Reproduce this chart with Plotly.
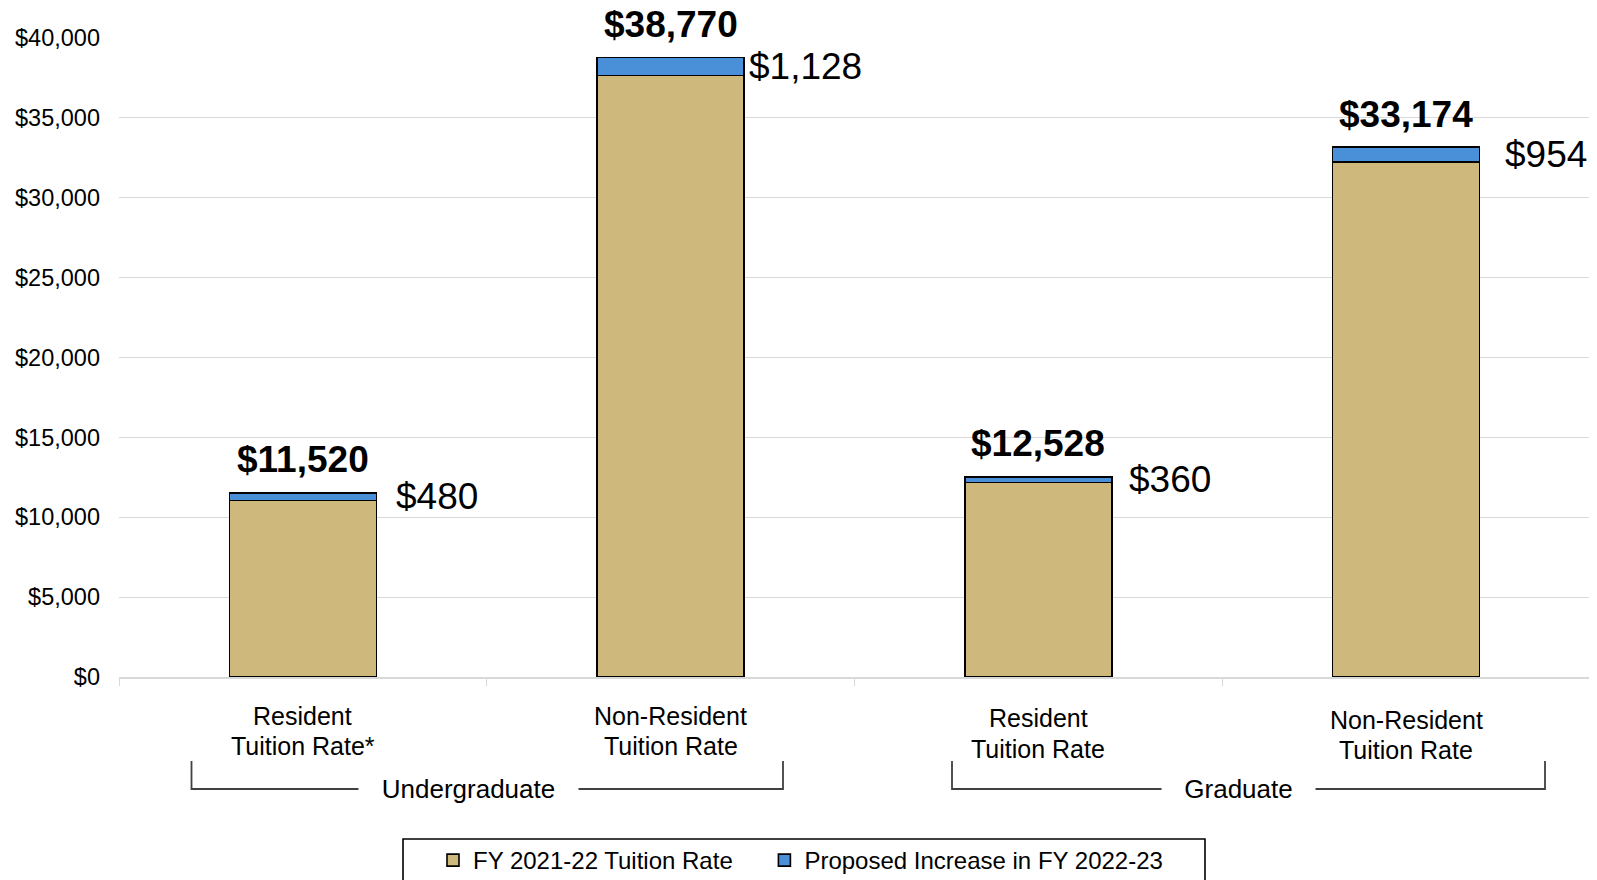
import plotly.graph_objects as go

# ---- data ----
categories = ["Resident<br>Tuition Rate*", "Non-Resident<br>Tuition Rate",
              "Resident<br>Tuition Rate", "Non-Resident<br>Tuition Rate"]
base_rate = [11040, 37642, 12168, 32220]
increase = [480, 1128, 360, 954]
totals = [11520, 38770, 12528, 33174]
groups = ["Undergraduate", "Graduate"]
series_names = ["FY 2021-22 Tuition Rate", "Proposed Increase in FY 2022-23"]
y_ticks = [0, 5000, 10000, 15000, 20000, 25000, 30000, 35000, 40000]
y_tick_text = ["$0", "$5,000", "$10,000", "$15,000", "$20,000", "$25,000",
               "$30,000", "$35,000", "$40,000"]

# ---- layout constants (page pixel coords; page body has 8px margin) ----
OFF = 8
W, H = 1597 - OFF, 880 - OFF
L, R, T, B = 119 - OFF, 1590 - OFF, 38 - OFF, 677 - OFF  # plot area in fig px
FONT = "Liberation Sans, Arial, sans-serif"
TAN = "#CFB87C"
BLUE = "#4A90D9"

def yp(page_px):
    return (B - (page_px - OFF)) / (B - T)

def xd(page_px):
    return ((page_px - OFF) - L) / (R - L) * 4 - 0.5

def xp(page_px):
    return ((page_px - OFF) - L) / (R - L)

x = list(range(len(categories)))

fig = go.Figure()
fig.add_trace(go.Bar(x=x, y=base_rate, name=series_names[0] + "\u00a0" * 4,
                     marker=dict(color=TAN, line=dict(color="black", width=1.6)),
                     width=0.4))
fig.add_trace(go.Bar(x=x, y=increase, name=series_names[1],
                     marker=dict(color=BLUE, line=dict(color="black", width=1.6)),
                     width=0.4))

annotations = []
# total labels
for i, t in enumerate(totals):
    annotations.append(dict(x=i, y=t, xref="x", yref="y", text=f"<b>${t:,}</b>",
                            showarrow=False, yanchor="middle", yshift=33,
                            font=dict(size=37, color="black", family=FONT)))
# increase labels
inc_xshift = [18, 3, 15, 23]
for i, (b, inc) in enumerate(zip(base_rate, increase)):
    annotations.append(dict(x=i + 0.2, y=b + inc / 2, xref="x", yref="y",
                            text=f"${inc:,}", showarrow=False, xanchor="left",
                            yanchor="middle", xshift=inc_xshift[i],
                            font=dict(size=37, color="black", family=FONT)))
# category labels (each line placed separately)
cat_line_y = [(716, 745.5), (716, 745.5), (718, 748.5), (720, 749.5)]
for i, c in enumerate(categories):
    for line, ly in zip(c.split("<br>"), cat_line_y[i]):
        annotations.append(dict(x=i, y=yp(ly), xref="x", yref="paper", text=line,
                                showarrow=False, yanchor="middle",
                                font=dict(size=25, color="black", family=FONT)))

# group brackets
brackets = [(xd(191.5), xd(783), xd(468.5), 219), (xd(952), xd(1545), xd(1238.5), 153)]
shapes = []
yb_top, yb_bot = yp(761), yp(789)
for (x0, x1, xc, gap), g in zip(brackets, groups):
    shapes.append(dict(type="path", xref="x", yref="paper",
                       path=f"M {x0},{yb_top} L {x0},{yb_bot} L {x1},{yb_bot} L {x1},{yb_top}",
                       line=dict(color="#404040", width=1.8)))
    annotations.append(dict(x=xc, y=yb_bot, xref="x", yref="paper", text=g,
                            showarrow=False, yanchor="middle", width=gap,
                            bgcolor="white", borderpad=0,
                            font=dict(size=26, color="black", family=FONT)))

# legend frame
shapes.append(dict(type="rect", xref="paper", yref="paper",
                   x0=xp(403), x1=xp(1205), y0=yp(905), y1=yp(839),
                   line=dict(color="black", width=1.6), fillcolor="rgba(0,0,0,0)"))

fig.update_layout(
    width=W, height=H,
    margin=dict(l=L, r=W - R, t=T, b=H - B, pad=0),
    plot_bgcolor="white", paper_bgcolor="white",
    barmode="stack",
    font=dict(family=FONT, color="black"),
    showlegend=True,
    legend=dict(orientation="h", xref="container", yref="container",
                x=(433 - OFF) / W, xanchor="left", y=1 - (838 - OFF) / H, yanchor="top",
                font=dict(size=24, family=FONT, color="black"),
                bgcolor="rgba(0,0,0,0)", borderwidth=0,
                traceorder="normal"),
    xaxis=dict(range=[-0.5, 3.5], tickvals=[-0.5, 0.5, 1.5, 2.5, 3.5],
               ticktext=["", "", "", "", ""], ticks="outside", ticklen=7,
               tickcolor="#D9D9D9", tickwidth=1.3,
               showline=True, linecolor="#D9D9D9", linewidth=1.5,
               showgrid=False, zeroline=False, fixedrange=True),
    yaxis=dict(range=[0, 40000], tickvals=y_ticks, ticktext=y_tick_text,
               tickfont=dict(size=23.5, family=FONT, color="black"),
               showgrid=True, gridcolor="#D9D9D9", gridwidth=1.3,
               zeroline=False, showline=False, ticks="",
               ticklabelstandoff=18),
    annotations=annotations,
    shapes=shapes,
)

fig.write_html("out.html")
